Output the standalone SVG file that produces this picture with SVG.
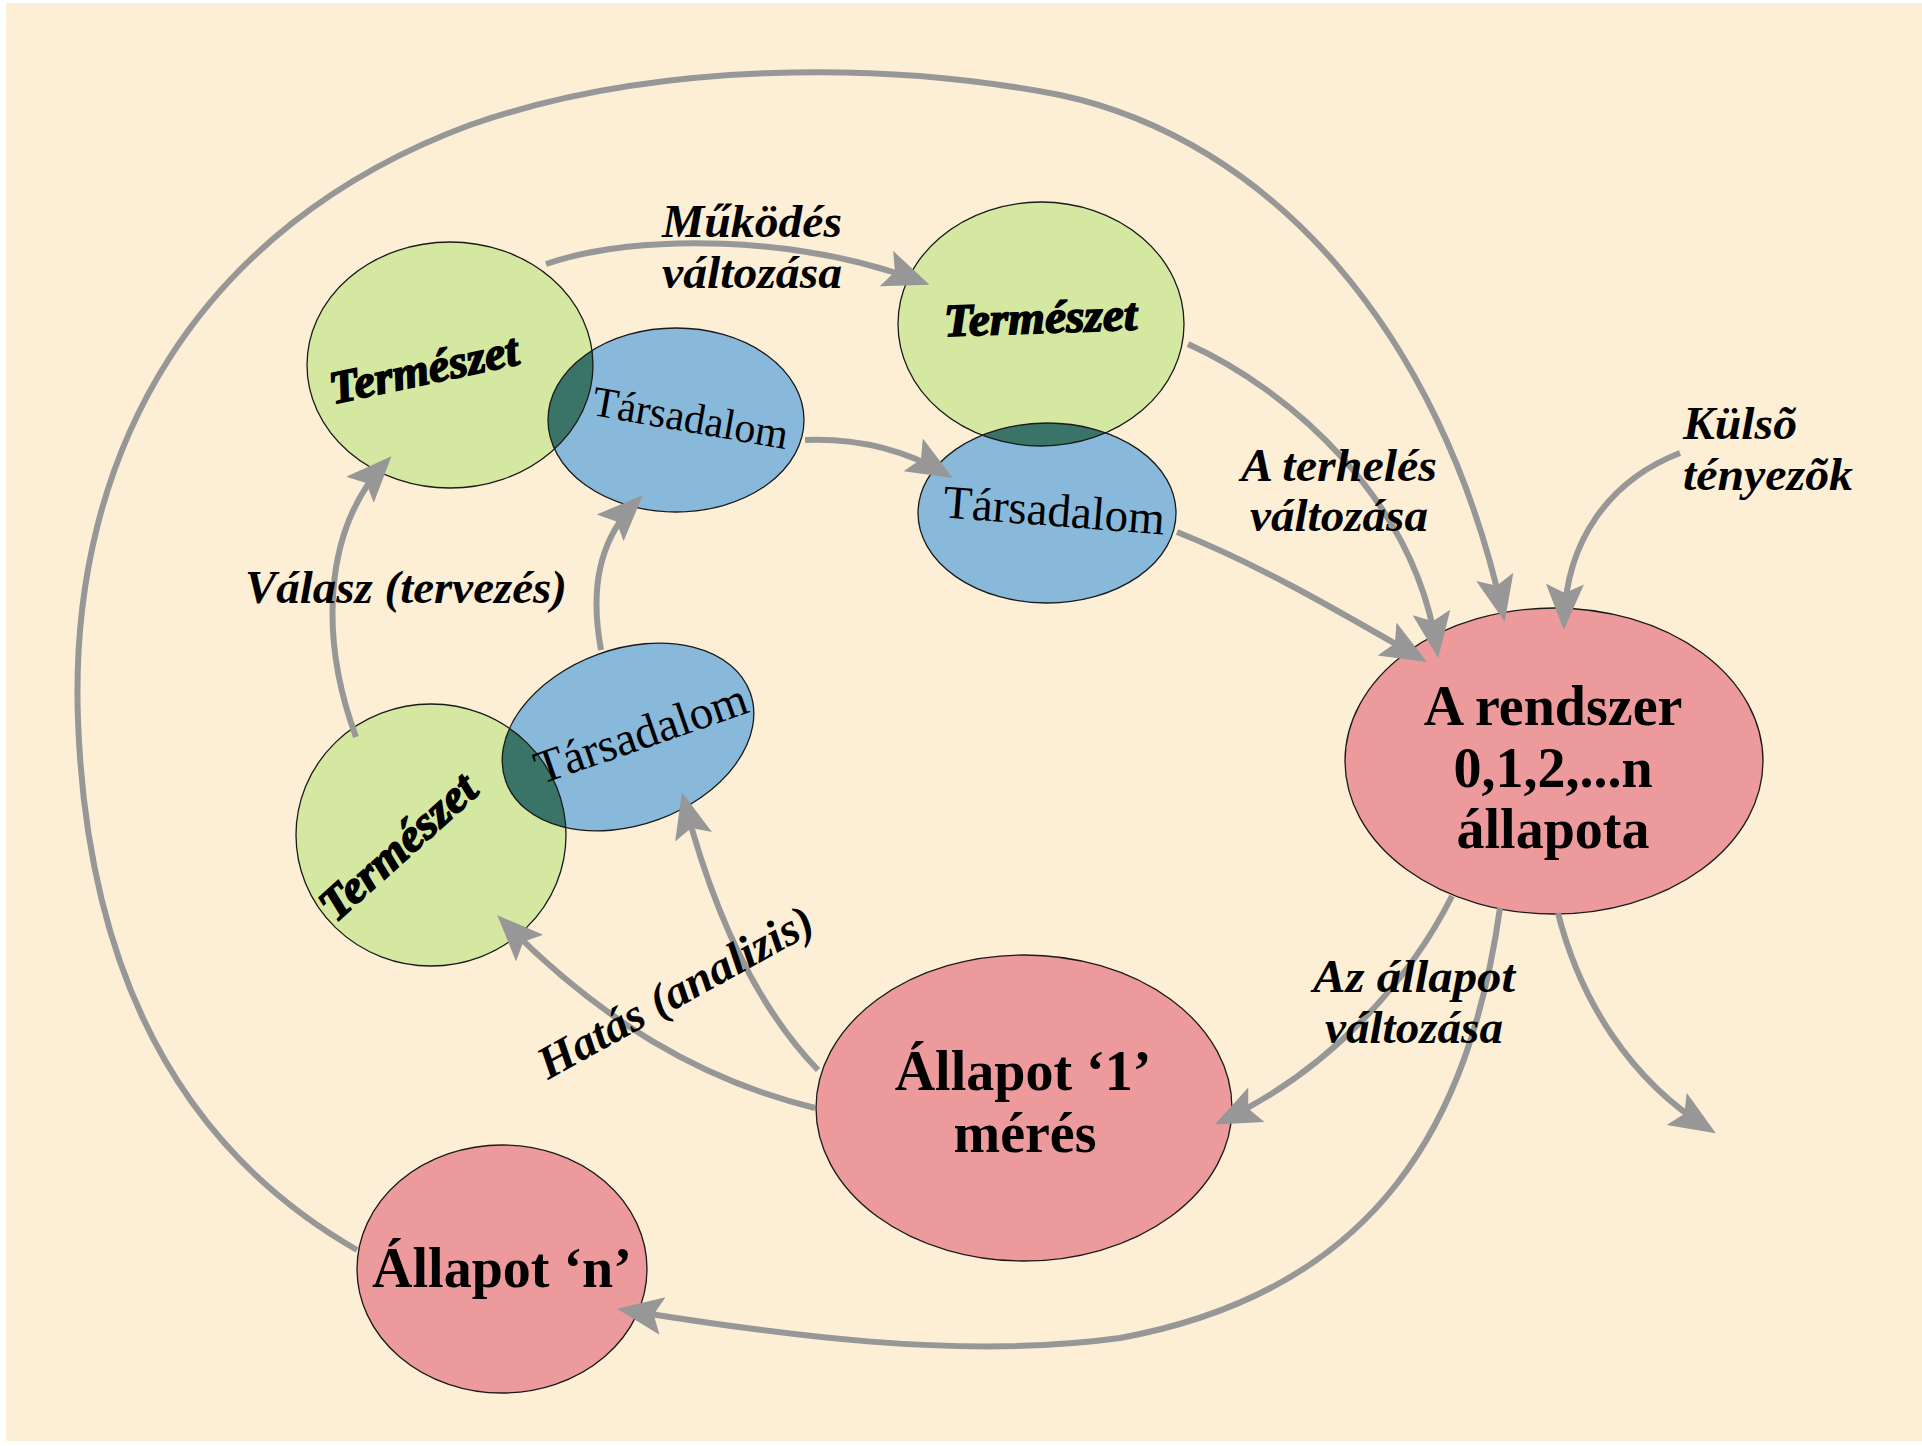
<svg xmlns="http://www.w3.org/2000/svg" width="1922" height="1446" viewBox="0 0 1922 1446">
<style>
.bg{fill:#FCEFD6}
.nat{fill:#D4E8A2}
.soc{fill:#88B9DB}
.ov{fill:#3A7468}
.st{fill:#ED9A9C}
.ol{fill:none;stroke:#1a1a1a;stroke-width:1.3}
.con{fill:none;stroke:#979797;stroke-width:6;marker-end:url(#ah)}
.tn{font-family:"Liberation Serif",serif;font-weight:bold;font-style:italic;font-size:46px;fill:#000;stroke:#000;stroke-width:1.6}
.ts{font-family:"Liberation Serif",serif;font-size:46px;fill:#000}
.tb{font-family:"Liberation Serif",serif;font-weight:bold;font-size:56px;fill:#000;text-anchor:middle}
.lb{font-family:"Liberation Serif",serif;font-weight:bold;font-style:italic;font-size:46px;fill:#000}
</style>
<defs>
<marker id="ah" markerUnits="userSpaceOnUse" markerWidth="46" markerHeight="40" viewBox="0 0 46 40" refX="38" refY="20" orient="auto">
<path d="M0,1 L46,20 L0,39 L9,20 Z" fill="#979797"/>
</marker>
<clipPath id="c1"><ellipse cx="450" cy="365" rx="143" ry="123"/></clipPath>
<clipPath id="c2"><ellipse cx="1041" cy="324" rx="143" ry="122"/></clipPath>
<clipPath id="c3"><ellipse cx="431" cy="835" rx="135" ry="131"/></clipPath>
</defs>
<rect x="0" y="0" width="1922" height="1446" fill="#ffffff"/>
<rect class="bg" x="6" y="3" width="1916" height="1438"/>

<g id="group-top-left">
<g id="natura-tl">
<ellipse class="nat" cx="450" cy="365" rx="143" ry="123"/>
</g>
<g id="tarsadalom-tl">
<ellipse class="soc" cx="676" cy="420" rx="128" ry="92"/>
<g clip-path="url(#c1)"><ellipse class="ov" cx="676" cy="420" rx="128" ry="92"/></g>
</g>
<ellipse class="ol" cx="450" cy="365" rx="143" ry="123"/>
<ellipse class="ol" cx="676" cy="420" rx="128" ry="92"/>
<text class="tn" x="427" y="384" text-anchor="middle" textLength="192" lengthAdjust="spacingAndGlyphs" transform="rotate(-12 427 384)">Természet</text>
<text class="ts" x="688" y="432" text-anchor="middle" textLength="198" lengthAdjust="spacingAndGlyphs" transform="rotate(10 688 432)" style="font-size:43px">Társadalom</text>
</g>

<g id="group-top-right">
<g id="natura-tr">
<ellipse class="nat" cx="1041" cy="324" rx="143" ry="122"/>
</g>
<g id="tarsadalom-tr">
<ellipse class="soc" cx="1047" cy="513" rx="129" ry="90"/>
<g clip-path="url(#c2)"><ellipse class="ov" cx="1047" cy="513" rx="129" ry="90"/></g>
</g>
<ellipse class="ol" cx="1041" cy="324" rx="143" ry="122"/>
<ellipse class="ol" cx="1047" cy="513" rx="129" ry="90"/>
<text class="tn" x="1041" y="333" text-anchor="middle" textLength="193" lengthAdjust="spacingAndGlyphs" transform="rotate(-2 1041 333)">Természet</text>
<text class="ts" x="1053" y="526" text-anchor="middle" textLength="222" lengthAdjust="spacingAndGlyphs" transform="rotate(4.5 1053 526)" style="font-size:47px">Társadalom</text>
</g>

<g id="group-bottom-left">
<g id="natura-bl">
<ellipse class="nat" cx="431" cy="835" rx="135" ry="131"/>
</g>
<g id="tarsadalom-bl">
<ellipse class="soc" cx="628" cy="737" rx="130" ry="88" transform="rotate(-20 628 737)"/>
<g clip-path="url(#c3)"><ellipse class="ov" cx="628" cy="737" rx="130" ry="88" transform="rotate(-20 628 737)"/></g>
</g>
<ellipse class="ol" cx="431" cy="835" rx="135" ry="131"/>
<ellipse class="ol" cx="628" cy="737" rx="130" ry="88" transform="rotate(-20 628 737)"/>
<text class="tn" x="408" y="858" text-anchor="middle" textLength="195" lengthAdjust="spacingAndGlyphs" transform="rotate(-42 408 858)">Természet</text>
<text class="ts" x="646" y="748" text-anchor="middle" textLength="222" lengthAdjust="spacingAndGlyphs" transform="rotate(-19 646 748)" style="font-size:47px">Társadalom</text>
</g>

<g id="rendszer">
<ellipse class="st" cx="1554" cy="761" rx="209" ry="153"/>
<ellipse class="ol" cx="1554" cy="761" rx="209" ry="153"/>
<text class="tb" x="1553" y="725">A rendszer</text>
<text class="tb" x="1553" y="787">0,1,2,...n</text>
<text class="tb" x="1553" y="848">állapota</text>
</g>

<g id="allapot-1">
<ellipse class="st" cx="1024" cy="1108" rx="208" ry="153"/>
<ellipse class="ol" cx="1024" cy="1108" rx="208" ry="153"/>
<text class="tb" x="1023" y="1090">Állapot ‘1’</text>
<text class="tb" x="1025" y="1152">mérés</text>
</g>

<g id="allapot-n">
<ellipse class="st" cx="502" cy="1269" rx="145" ry="124"/>
<ellipse class="ol" cx="502" cy="1269" rx="145" ry="124"/>
<text class="tb" x="502" y="1287">Állapot ‘n’</text>
</g>

<g id="connectors">
<path class="con" d="M357 1250 C200 1160 88 1000 78 720 C68 450 200 225 470 125 C650 62 880 60 1060 95 C1270 140 1440 330 1503 614"/>
<path class="con" d="M546 264 C640 232 800 236 922 282"/>
<path class="con" d="M805 440 C860 438 905 450 946 474"/>
<path class="con" d="M1188 344 C1290 390 1415 500 1437 650"/>
<path class="con" d="M1177 532 C1260 565 1340 612 1420 658"/>
<path class="con" d="M1680 453 C1610 480 1566 540 1564 622"/>
<path class="con" d="M1452 896 C1410 980 1330 1070 1222 1121"/>
<path class="con" d="M1500 908 C1470 1120 1380 1290 1120 1338 C960 1360 780 1335 625 1310"/>
<path class="con" d="M1558 913 C1580 1000 1630 1080 1709 1129"/>
<path class="con" d="M356 737 C320 640 322 530 386 462"/>
<path class="con" d="M601 650 C590 590 598 540 637 501"/>
<path class="con" d="M815 1108 C700 1080 600 1020 503 921"/>
<path class="con" d="M818 1070 C760 1010 715 920 684 800"/>
</g>

<g id="labels">
<text class="lb" x="662" y="237" textLength="180" lengthAdjust="spacingAndGlyphs">Működés</text>
<text class="lb" x="662" y="288" textLength="180" lengthAdjust="spacingAndGlyphs">változása</text>
<text class="lb" x="245" y="603" textLength="322" lengthAdjust="spacingAndGlyphs">Válasz (tervezés)</text>
<text class="lb" x="1339" y="481" text-anchor="middle" textLength="196" lengthAdjust="spacingAndGlyphs">A terhelés</text>
<text class="lb" x="1339" y="531" text-anchor="middle" textLength="178" lengthAdjust="spacingAndGlyphs">változása</text>
<text class="lb" x="1683" y="439" textLength="114" lengthAdjust="spacingAndGlyphs">Külsõ</text>
<text class="lb" x="1683" y="490" textLength="170" lengthAdjust="spacingAndGlyphs">tényezõk</text>
<text class="lb" x="1414" y="992" text-anchor="middle" textLength="202" lengthAdjust="spacingAndGlyphs">Az állapot</text>
<text class="lb" x="1414" y="1043" text-anchor="middle" textLength="178" lengthAdjust="spacingAndGlyphs">változása</text>
<text class="lb" x="548" y="1080" textLength="308" lengthAdjust="spacingAndGlyphs" transform="rotate(-29 548 1080)">Hatás (analizis)</text>
</g>
</svg>
